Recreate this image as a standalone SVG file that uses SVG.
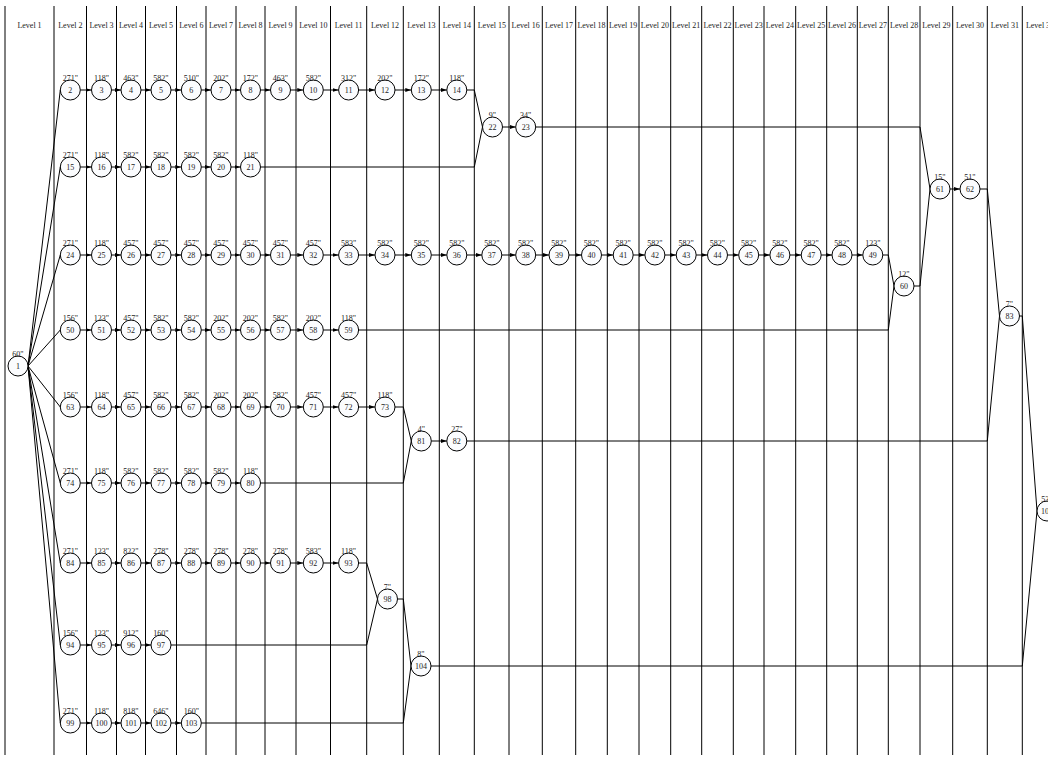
<svg xmlns="http://www.w3.org/2000/svg" width="1048" height="758" viewBox="0 0 1048 758">
<style>
.lv{font-family:"Liberation Serif",serif;font-size:8px;text-anchor:middle;fill:#222}
.grid line{stroke:#000;stroke-width:1}
.node circle{fill:#fbfcfe;stroke:#000;stroke-width:1}
.node text{font-family:"Liberation Serif",serif;font-size:8px;text-anchor:middle;fill:#222}
.conn line,.conn polyline{stroke:#000;stroke-width:1;fill:none}
.conn .a{marker-end:url(#ah)}
</style>
<defs>
<marker id="ah" viewBox="0 0 6 4" refX="6" refY="2" markerWidth="6" markerHeight="4" markerUnits="userSpaceOnUse" orient="auto"><path d="M0,0 L6,2 L0,4 z" fill="#000"/></marker>
</defs>
<rect width="1048" height="758" fill="#fff"/>
<g class="grid">
<line x1="5" y1="6" x2="5" y2="755"/><line x1="54" y1="6" x2="54" y2="755"/><line x1="86.5" y1="6" x2="86.5" y2="755"/><line x1="116.5" y1="6" x2="116.5" y2="755"/><line x1="145.5" y1="6" x2="145.5" y2="755"/><line x1="176.5" y1="6" x2="176.5" y2="755"/><line x1="206" y1="6" x2="206" y2="755"/><line x1="236" y1="6" x2="236" y2="755"/><line x1="265" y1="6" x2="265" y2="755"/><line x1="296" y1="6" x2="296" y2="755"/><line x1="330.5" y1="6" x2="330.5" y2="755"/><line x1="366.7" y1="6" x2="366.7" y2="755"/><line x1="403.3" y1="6" x2="403.3" y2="755"/><line x1="439.3" y1="6" x2="439.3" y2="755"/><line x1="474.3" y1="6" x2="474.3" y2="755"/><line x1="509" y1="6" x2="509" y2="755"/><line x1="542.3" y1="6" x2="542.3" y2="755"/><line x1="575.7" y1="6" x2="575.7" y2="755"/><line x1="607.3" y1="6" x2="607.3" y2="755"/><line x1="639" y1="6" x2="639" y2="755"/><line x1="670.7" y1="6" x2="670.7" y2="755"/><line x1="701.7" y1="6" x2="701.7" y2="755"/><line x1="733.3" y1="6" x2="733.3" y2="755"/><line x1="764" y1="6" x2="764" y2="755"/><line x1="795.7" y1="6" x2="795.7" y2="755"/><line x1="826.7" y1="6" x2="826.7" y2="755"/><line x1="857.3" y1="6" x2="857.3" y2="755"/><line x1="888.3" y1="6" x2="888.3" y2="755"/><line x1="920" y1="6" x2="920" y2="755"/><line x1="952.7" y1="6" x2="952.7" y2="755"/><line x1="987.3" y1="6" x2="987.3" y2="755"/><line x1="1022.3" y1="6" x2="1022.3" y2="755"/>
</g>
<g id="levels" opacity="0.99">
<text class="lv" x="29.5" y="28">Level 1</text><text class="lv" x="70.3" y="28">Level 2</text><text class="lv" x="101.5" y="28">Level 3</text><text class="lv" x="131" y="28">Level 4</text><text class="lv" x="161" y="28">Level 5</text><text class="lv" x="191.3" y="28">Level 6</text><text class="lv" x="221" y="28">Level 7</text><text class="lv" x="250.5" y="28">Level 8</text><text class="lv" x="280.5" y="28">Level 9</text><text class="lv" x="313.3" y="28">Level 10</text><text class="lv" x="348.6" y="28">Level 11</text><text class="lv" x="385" y="28">Level 12</text><text class="lv" x="421.3" y="28">Level 13</text><text class="lv" x="456.8" y="28">Level 14</text><text class="lv" x="491.8" y="28">Level 15</text><text class="lv" x="525.7" y="28">Level 16</text><text class="lv" x="559" y="28">Level 17</text><text class="lv" x="591.5" y="28">Level 18</text><text class="lv" x="623.2" y="28">Level 19</text><text class="lv" x="654.9" y="28">Level 20</text><text class="lv" x="686.2" y="28">Level 21</text><text class="lv" x="717.5" y="28">Level 22</text><text class="lv" x="748.7" y="28">Level 23</text><text class="lv" x="779.9" y="28">Level 24</text><text class="lv" x="811.2" y="28">Level 25</text><text class="lv" x="842" y="28">Level 26</text><text class="lv" x="872.8" y="28">Level 27</text><text class="lv" x="904.2" y="28">Level 28</text><text class="lv" x="936.4" y="28">Level 29</text><text class="lv" x="970" y="28">Level 30</text><text class="lv" x="1004.8" y="28">Level 31</text><text class="lv" x="1040" y="28">Level 32</text>
</g>
<g class="conn" id="connectors">
<line x1="28" y1="366" x2="60.3" y2="90"/><line x1="28" y1="366" x2="60.3" y2="167"/><line x1="28" y1="366" x2="60.3" y2="255"/><line x1="28" y1="366" x2="60.3" y2="330"/><line x1="28" y1="366" x2="60.3" y2="407"/><line x1="28" y1="366" x2="60.3" y2="483"/><line x1="28" y1="366" x2="60.3" y2="563"/><line x1="28" y1="366" x2="60.3" y2="645"/><line x1="28" y1="366" x2="60.3" y2="723"/>
<line class="a" x1="80.3" y1="90" x2="91.5" y2="90"/><line class="a" x1="111.5" y1="90" x2="121" y2="90"/><line class="a" x1="141" y1="90" x2="151" y2="90"/><line class="a" x1="171" y1="90" x2="181.3" y2="90"/><line class="a" x1="201.3" y1="90" x2="211" y2="90"/><line class="a" x1="231" y1="90" x2="240.5" y2="90"/><line class="a" x1="260.5" y1="90" x2="270.5" y2="90"/><line class="a" x1="290.5" y1="90" x2="303.3" y2="90"/><line class="a" x1="323.3" y1="90" x2="338.6" y2="90"/><line class="a" x1="358.6" y1="90" x2="375" y2="90"/><line class="a" x1="395" y1="90" x2="411.3" y2="90"/><line class="a" x1="431.3" y1="90" x2="446.8" y2="90"/>
<line class="a" x1="80.3" y1="167" x2="91.5" y2="167"/><line class="a" x1="111.5" y1="167" x2="121" y2="167"/><line class="a" x1="141" y1="167" x2="151" y2="167"/><line class="a" x1="171" y1="167" x2="181.3" y2="167"/><line class="a" x1="201.3" y1="167" x2="211" y2="167"/><line class="a" x1="231" y1="167" x2="240.5" y2="167"/>
<line class="a" x1="80.3" y1="255" x2="91.5" y2="255"/><line class="a" x1="111.5" y1="255" x2="121" y2="255"/><line class="a" x1="141" y1="255" x2="151" y2="255"/><line class="a" x1="171" y1="255" x2="181.3" y2="255"/><line class="a" x1="201.3" y1="255" x2="211" y2="255"/><line class="a" x1="231" y1="255" x2="240.5" y2="255"/><line class="a" x1="260.5" y1="255" x2="270.5" y2="255"/><line class="a" x1="290.5" y1="255" x2="303.3" y2="255"/><line class="a" x1="323.3" y1="255" x2="338.6" y2="255"/><line class="a" x1="358.6" y1="255" x2="375" y2="255"/><line class="a" x1="395" y1="255" x2="411.3" y2="255"/><line class="a" x1="431.3" y1="255" x2="446.8" y2="255"/><line class="a" x1="466.8" y1="255" x2="481.8" y2="255"/><line class="a" x1="501.8" y1="255" x2="515.7" y2="255"/><line class="a" x1="535.7" y1="255" x2="549" y2="255"/><line class="a" x1="569" y1="255" x2="581.5" y2="255"/><line class="a" x1="601.5" y1="255" x2="613.2" y2="255"/><line class="a" x1="633.2" y1="255" x2="644.9" y2="255"/><line class="a" x1="664.9" y1="255" x2="676.2" y2="255"/><line class="a" x1="696.2" y1="255" x2="707.5" y2="255"/><line class="a" x1="727.5" y1="255" x2="738.7" y2="255"/><line class="a" x1="758.7" y1="255" x2="769.9" y2="255"/><line class="a" x1="789.9" y1="255" x2="801.2" y2="255"/><line class="a" x1="821.2" y1="255" x2="832" y2="255"/><line class="a" x1="852" y1="255" x2="862.8" y2="255"/>
<line class="a" x1="80.3" y1="330" x2="91.5" y2="330"/><line class="a" x1="111.5" y1="330" x2="121" y2="330"/><line class="a" x1="141" y1="330" x2="151" y2="330"/><line class="a" x1="171" y1="330" x2="181.3" y2="330"/><line class="a" x1="201.3" y1="330" x2="211" y2="330"/><line class="a" x1="231" y1="330" x2="240.5" y2="330"/><line class="a" x1="260.5" y1="330" x2="270.5" y2="330"/><line class="a" x1="290.5" y1="330" x2="303.3" y2="330"/><line class="a" x1="323.3" y1="330" x2="338.6" y2="330"/>
<line class="a" x1="80.3" y1="407" x2="91.5" y2="407"/><line class="a" x1="111.5" y1="407" x2="121" y2="407"/><line class="a" x1="141" y1="407" x2="151" y2="407"/><line class="a" x1="171" y1="407" x2="181.3" y2="407"/><line class="a" x1="201.3" y1="407" x2="211" y2="407"/><line class="a" x1="231" y1="407" x2="240.5" y2="407"/><line class="a" x1="260.5" y1="407" x2="270.5" y2="407"/><line class="a" x1="290.5" y1="407" x2="303.3" y2="407"/><line class="a" x1="323.3" y1="407" x2="338.6" y2="407"/><line class="a" x1="358.6" y1="407" x2="375" y2="407"/>
<line class="a" x1="80.3" y1="483" x2="91.5" y2="483"/><line class="a" x1="111.5" y1="483" x2="121" y2="483"/><line class="a" x1="141" y1="483" x2="151" y2="483"/><line class="a" x1="171" y1="483" x2="181.3" y2="483"/><line class="a" x1="201.3" y1="483" x2="211" y2="483"/><line class="a" x1="231" y1="483" x2="240.5" y2="483"/>
<line class="a" x1="80.3" y1="563" x2="91.5" y2="563"/><line class="a" x1="111.5" y1="563" x2="121" y2="563"/><line class="a" x1="141" y1="563" x2="151" y2="563"/><line class="a" x1="171" y1="563" x2="181.3" y2="563"/><line class="a" x1="201.3" y1="563" x2="211" y2="563"/><line class="a" x1="231" y1="563" x2="240.5" y2="563"/><line class="a" x1="260.5" y1="563" x2="270.5" y2="563"/><line class="a" x1="290.5" y1="563" x2="303.3" y2="563"/><line class="a" x1="323.3" y1="563" x2="338.6" y2="563"/>
<line class="a" x1="80.3" y1="645" x2="91.5" y2="645"/><line class="a" x1="111.5" y1="645" x2="121" y2="645"/><line class="a" x1="141" y1="645" x2="151" y2="645"/>
<line class="a" x1="80.3" y1="723" x2="91.5" y2="723"/><line class="a" x1="111.5" y1="723" x2="121" y2="723"/><line class="a" x1="141" y1="723" x2="151" y2="723"/><line class="a" x1="171" y1="723" x2="181.3" y2="723"/>
<line class="a" x1="502.5" y1="127" x2="515.7" y2="127"/><line class="a" x1="950" y1="189" x2="960" y2="189"/><line class="a" x1="431.3" y1="441" x2="446.8" y2="441"/>
<polyline points="466.8,90 474.3,90 482.5,127"/><polyline points="260.5,167 474.3,167 482.5,127"/>
<polyline points="535.7,127 920,127 930,189"/><polyline points="914,286 920,286 930,189"/>
<polyline points="882.8,255 888.3,255 894,286"/><polyline points="358.6,330 888.3,330 894,286"/>
<polyline points="980,189 987.3,189 999.5,316"/><polyline points="466.8,441 987.3,441 999.5,316"/>
<polyline points="1019.5,316 1022.3,316 1037,511"/><polyline points="431,666 1022.3,666 1037,511"/>
<polyline points="395,407 403.3,407 411.3,441"/><polyline points="260.5,483 403.3,483 411.3,441"/>
<polyline points="358.6,563 366.7,563 377.5,599"/><polyline points="171,645 366.7,645 377.5,599"/>
<polyline points="397.5,599 403.3,599 411,666"/><polyline points="201.3,723 403.3,723 411,666"/>
</g>
<g id="nodes" opacity="0.99">
<g id="n1" class="node"><circle cx="18" cy="366" r="10"/><text x="18" y="369">1</text><text x="18" y="356.5">60"</text></g>
<g id="n2" class="node"><circle cx="70.3" cy="90" r="10"/><text x="70.3" y="93">2</text><text x="70.3" y="80.5">271"</text></g>
<g id="n3" class="node"><circle cx="101.5" cy="90" r="10"/><text x="101.5" y="93">3</text><text x="101.5" y="80.5">118"</text></g>
<g id="n4" class="node"><circle cx="131" cy="90" r="10"/><text x="131" y="93">4</text><text x="131" y="80.5">463"</text></g>
<g id="n5" class="node"><circle cx="161" cy="90" r="10"/><text x="161" y="93">5</text><text x="161" y="80.5">582"</text></g>
<g id="n6" class="node"><circle cx="191.3" cy="90" r="10"/><text x="191.3" y="93">6</text><text x="191.3" y="80.5">510"</text></g>
<g id="n7" class="node"><circle cx="221" cy="90" r="10"/><text x="221" y="93">7</text><text x="221" y="80.5">202"</text></g>
<g id="n8" class="node"><circle cx="250.5" cy="90" r="10"/><text x="250.5" y="93">8</text><text x="250.5" y="80.5">172"</text></g>
<g id="n9" class="node"><circle cx="280.5" cy="90" r="10"/><text x="280.5" y="93">9</text><text x="280.5" y="80.5">463"</text></g>
<g id="n10" class="node"><circle cx="313.3" cy="90" r="10"/><text x="313.3" y="93">10</text><text x="313.3" y="80.5">582"</text></g>
<g id="n11" class="node"><circle cx="348.6" cy="90" r="10"/><text x="348.6" y="93">11</text><text x="348.6" y="80.5">312"</text></g>
<g id="n12" class="node"><circle cx="385" cy="90" r="10"/><text x="385" y="93">12</text><text x="385" y="80.5">202"</text></g>
<g id="n13" class="node"><circle cx="421.3" cy="90" r="10"/><text x="421.3" y="93">13</text><text x="421.3" y="80.5">172"</text></g>
<g id="n14" class="node"><circle cx="456.8" cy="90" r="10"/><text x="456.8" y="93">14</text><text x="456.8" y="80.5">118"</text></g>
<g id="n22" class="node"><circle cx="492.5" cy="127" r="10"/><text x="492.5" y="130">22</text><text x="492.5" y="117.5">9"</text></g>
<g id="n23" class="node"><circle cx="525.7" cy="127" r="10"/><text x="525.7" y="130">23</text><text x="525.7" y="117.5">34"</text></g>
<g id="n15" class="node"><circle cx="70.3" cy="167" r="10"/><text x="70.3" y="170">15</text><text x="70.3" y="157.5">271"</text></g>
<g id="n16" class="node"><circle cx="101.5" cy="167" r="10"/><text x="101.5" y="170">16</text><text x="101.5" y="157.5">118"</text></g>
<g id="n17" class="node"><circle cx="131" cy="167" r="10"/><text x="131" y="170">17</text><text x="131" y="157.5">582"</text></g>
<g id="n18" class="node"><circle cx="161" cy="167" r="10"/><text x="161" y="170">18</text><text x="161" y="157.5">582"</text></g>
<g id="n19" class="node"><circle cx="191.3" cy="167" r="10"/><text x="191.3" y="170">19</text><text x="191.3" y="157.5">582"</text></g>
<g id="n20" class="node"><circle cx="221" cy="167" r="10"/><text x="221" y="170">20</text><text x="221" y="157.5">582"</text></g>
<g id="n21" class="node"><circle cx="250.5" cy="167" r="10"/><text x="250.5" y="170">21</text><text x="250.5" y="157.5">118"</text></g>
<g id="n24" class="node"><circle cx="70.3" cy="255" r="10"/><text x="70.3" y="258">24</text><text x="70.3" y="245.5">271"</text></g>
<g id="n25" class="node"><circle cx="101.5" cy="255" r="10"/><text x="101.5" y="258">25</text><text x="101.5" y="245.5">118"</text></g>
<g id="n26" class="node"><circle cx="131" cy="255" r="10"/><text x="131" y="258">26</text><text x="131" y="245.5">457"</text></g>
<g id="n27" class="node"><circle cx="161" cy="255" r="10"/><text x="161" y="258">27</text><text x="161" y="245.5">457"</text></g>
<g id="n28" class="node"><circle cx="191.3" cy="255" r="10"/><text x="191.3" y="258">28</text><text x="191.3" y="245.5">457"</text></g>
<g id="n29" class="node"><circle cx="221" cy="255" r="10"/><text x="221" y="258">29</text><text x="221" y="245.5">457"</text></g>
<g id="n30" class="node"><circle cx="250.5" cy="255" r="10"/><text x="250.5" y="258">30</text><text x="250.5" y="245.5">457"</text></g>
<g id="n31" class="node"><circle cx="280.5" cy="255" r="10"/><text x="280.5" y="258">31</text><text x="280.5" y="245.5">457"</text></g>
<g id="n32" class="node"><circle cx="313.3" cy="255" r="10"/><text x="313.3" y="258">32</text><text x="313.3" y="245.5">457"</text></g>
<g id="n33" class="node"><circle cx="348.6" cy="255" r="10"/><text x="348.6" y="258">33</text><text x="348.6" y="245.5">583"</text></g>
<g id="n34" class="node"><circle cx="385" cy="255" r="10"/><text x="385" y="258">34</text><text x="385" y="245.5">582"</text></g>
<g id="n35" class="node"><circle cx="421.3" cy="255" r="10"/><text x="421.3" y="258">35</text><text x="421.3" y="245.5">582"</text></g>
<g id="n36" class="node"><circle cx="456.8" cy="255" r="10"/><text x="456.8" y="258">36</text><text x="456.8" y="245.5">582"</text></g>
<g id="n37" class="node"><circle cx="491.8" cy="255" r="10"/><text x="491.8" y="258">37</text><text x="491.8" y="245.5">582"</text></g>
<g id="n38" class="node"><circle cx="525.7" cy="255" r="10"/><text x="525.7" y="258">38</text><text x="525.7" y="245.5">582"</text></g>
<g id="n39" class="node"><circle cx="559" cy="255" r="10"/><text x="559" y="258">39</text><text x="559" y="245.5">582"</text></g>
<g id="n40" class="node"><circle cx="591.5" cy="255" r="10"/><text x="591.5" y="258">40</text><text x="591.5" y="245.5">582"</text></g>
<g id="n41" class="node"><circle cx="623.2" cy="255" r="10"/><text x="623.2" y="258">41</text><text x="623.2" y="245.5">582"</text></g>
<g id="n42" class="node"><circle cx="654.9" cy="255" r="10"/><text x="654.9" y="258">42</text><text x="654.9" y="245.5">582"</text></g>
<g id="n43" class="node"><circle cx="686.2" cy="255" r="10"/><text x="686.2" y="258">43</text><text x="686.2" y="245.5">582"</text></g>
<g id="n44" class="node"><circle cx="717.5" cy="255" r="10"/><text x="717.5" y="258">44</text><text x="717.5" y="245.5">582"</text></g>
<g id="n45" class="node"><circle cx="748.7" cy="255" r="10"/><text x="748.7" y="258">45</text><text x="748.7" y="245.5">582"</text></g>
<g id="n46" class="node"><circle cx="779.9" cy="255" r="10"/><text x="779.9" y="258">46</text><text x="779.9" y="245.5">582"</text></g>
<g id="n47" class="node"><circle cx="811.2" cy="255" r="10"/><text x="811.2" y="258">47</text><text x="811.2" y="245.5">582"</text></g>
<g id="n48" class="node"><circle cx="842" cy="255" r="10"/><text x="842" y="258">48</text><text x="842" y="245.5">582"</text></g>
<g id="n49" class="node"><circle cx="872.8" cy="255" r="10"/><text x="872.8" y="258">49</text><text x="872.8" y="245.5">123"</text></g>
<g id="n60" class="node"><circle cx="904" cy="286" r="10"/><text x="904" y="289">60</text><text x="904" y="276.5">12"</text></g>
<g id="n61" class="node"><circle cx="940" cy="189" r="10"/><text x="940" y="192">61</text><text x="940" y="179.5">15"</text></g>
<g id="n62" class="node"><circle cx="970" cy="189" r="10"/><text x="970" y="192">62</text><text x="970" y="179.5">51"</text></g>
<g id="n83" class="node"><circle cx="1009.5" cy="316" r="10"/><text x="1009.5" y="319">83</text><text x="1009.5" y="306.5">7"</text></g>
<g id="n50" class="node"><circle cx="70.3" cy="330" r="10"/><text x="70.3" y="333">50</text><text x="70.3" y="320.5">156"</text></g>
<g id="n51" class="node"><circle cx="101.5" cy="330" r="10"/><text x="101.5" y="333">51</text><text x="101.5" y="320.5">123"</text></g>
<g id="n52" class="node"><circle cx="131" cy="330" r="10"/><text x="131" y="333">52</text><text x="131" y="320.5">457"</text></g>
<g id="n53" class="node"><circle cx="161" cy="330" r="10"/><text x="161" y="333">53</text><text x="161" y="320.5">582"</text></g>
<g id="n54" class="node"><circle cx="191.3" cy="330" r="10"/><text x="191.3" y="333">54</text><text x="191.3" y="320.5">582"</text></g>
<g id="n55" class="node"><circle cx="221" cy="330" r="10"/><text x="221" y="333">55</text><text x="221" y="320.5">202"</text></g>
<g id="n56" class="node"><circle cx="250.5" cy="330" r="10"/><text x="250.5" y="333">56</text><text x="250.5" y="320.5">202"</text></g>
<g id="n57" class="node"><circle cx="280.5" cy="330" r="10"/><text x="280.5" y="333">57</text><text x="280.5" y="320.5">582"</text></g>
<g id="n58" class="node"><circle cx="313.3" cy="330" r="10"/><text x="313.3" y="333">58</text><text x="313.3" y="320.5">202"</text></g>
<g id="n59" class="node"><circle cx="348.6" cy="330" r="10"/><text x="348.6" y="333">59</text><text x="348.6" y="320.5">118"</text></g>
<g id="n63" class="node"><circle cx="70.3" cy="407" r="10"/><text x="70.3" y="410">63</text><text x="70.3" y="397.5">156"</text></g>
<g id="n64" class="node"><circle cx="101.5" cy="407" r="10"/><text x="101.5" y="410">64</text><text x="101.5" y="397.5">118"</text></g>
<g id="n65" class="node"><circle cx="131" cy="407" r="10"/><text x="131" y="410">65</text><text x="131" y="397.5">457"</text></g>
<g id="n66" class="node"><circle cx="161" cy="407" r="10"/><text x="161" y="410">66</text><text x="161" y="397.5">582"</text></g>
<g id="n67" class="node"><circle cx="191.3" cy="407" r="10"/><text x="191.3" y="410">67</text><text x="191.3" y="397.5">582"</text></g>
<g id="n68" class="node"><circle cx="221" cy="407" r="10"/><text x="221" y="410">68</text><text x="221" y="397.5">202"</text></g>
<g id="n69" class="node"><circle cx="250.5" cy="407" r="10"/><text x="250.5" y="410">69</text><text x="250.5" y="397.5">202"</text></g>
<g id="n70" class="node"><circle cx="280.5" cy="407" r="10"/><text x="280.5" y="410">70</text><text x="280.5" y="397.5">582"</text></g>
<g id="n71" class="node"><circle cx="313.3" cy="407" r="10"/><text x="313.3" y="410">71</text><text x="313.3" y="397.5">457"</text></g>
<g id="n72" class="node"><circle cx="348.6" cy="407" r="10"/><text x="348.6" y="410">72</text><text x="348.6" y="397.5">457"</text></g>
<g id="n73" class="node"><circle cx="385" cy="407" r="10"/><text x="385" y="410">73</text><text x="385" y="397.5">118"</text></g>
<g id="n81" class="node"><circle cx="421.3" cy="441" r="10"/><text x="421.3" y="444">81</text><text x="421.3" y="431.5">4"</text></g>
<g id="n82" class="node"><circle cx="456.8" cy="441" r="10"/><text x="456.8" y="444">82</text><text x="456.8" y="431.5">27"</text></g>
<g id="n74" class="node"><circle cx="70.3" cy="483" r="10"/><text x="70.3" y="486">74</text><text x="70.3" y="473.5">271"</text></g>
<g id="n75" class="node"><circle cx="101.5" cy="483" r="10"/><text x="101.5" y="486">75</text><text x="101.5" y="473.5">118"</text></g>
<g id="n76" class="node"><circle cx="131" cy="483" r="10"/><text x="131" y="486">76</text><text x="131" y="473.5">582"</text></g>
<g id="n77" class="node"><circle cx="161" cy="483" r="10"/><text x="161" y="486">77</text><text x="161" y="473.5">582"</text></g>
<g id="n78" class="node"><circle cx="191.3" cy="483" r="10"/><text x="191.3" y="486">78</text><text x="191.3" y="473.5">582"</text></g>
<g id="n79" class="node"><circle cx="221" cy="483" r="10"/><text x="221" y="486">79</text><text x="221" y="473.5">582"</text></g>
<g id="n80" class="node"><circle cx="250.5" cy="483" r="10"/><text x="250.5" y="486">80</text><text x="250.5" y="473.5">118"</text></g>
<g id="n105" class="node"><circle cx="1047" cy="511" r="10"/><text x="1047" y="514">105</text><text x="1047" y="501.5">53"</text></g>
<g id="n84" class="node"><circle cx="70.3" cy="563" r="10"/><text x="70.3" y="566">84</text><text x="70.3" y="553.5">271"</text></g>
<g id="n85" class="node"><circle cx="101.5" cy="563" r="10"/><text x="101.5" y="566">85</text><text x="101.5" y="553.5">123"</text></g>
<g id="n86" class="node"><circle cx="131" cy="563" r="10"/><text x="131" y="566">86</text><text x="131" y="553.5">822"</text></g>
<g id="n87" class="node"><circle cx="161" cy="563" r="10"/><text x="161" y="566">87</text><text x="161" y="553.5">278"</text></g>
<g id="n88" class="node"><circle cx="191.3" cy="563" r="10"/><text x="191.3" y="566">88</text><text x="191.3" y="553.5">278"</text></g>
<g id="n89" class="node"><circle cx="221" cy="563" r="10"/><text x="221" y="566">89</text><text x="221" y="553.5">278"</text></g>
<g id="n90" class="node"><circle cx="250.5" cy="563" r="10"/><text x="250.5" y="566">90</text><text x="250.5" y="553.5">278"</text></g>
<g id="n91" class="node"><circle cx="280.5" cy="563" r="10"/><text x="280.5" y="566">91</text><text x="280.5" y="553.5">278"</text></g>
<g id="n92" class="node"><circle cx="313.3" cy="563" r="10"/><text x="313.3" y="566">92</text><text x="313.3" y="553.5">583"</text></g>
<g id="n93" class="node"><circle cx="348.6" cy="563" r="10"/><text x="348.6" y="566">93</text><text x="348.6" y="553.5">118"</text></g>
<g id="n98" class="node"><circle cx="387.5" cy="599" r="10"/><text x="387.5" y="602">98</text><text x="387.5" y="589.5">7"</text></g>
<g id="n94" class="node"><circle cx="70.3" cy="645" r="10"/><text x="70.3" y="648">94</text><text x="70.3" y="635.5">156"</text></g>
<g id="n95" class="node"><circle cx="101.5" cy="645" r="10"/><text x="101.5" y="648">95</text><text x="101.5" y="635.5">123"</text></g>
<g id="n96" class="node"><circle cx="131" cy="645" r="10"/><text x="131" y="648">96</text><text x="131" y="635.5">912"</text></g>
<g id="n97" class="node"><circle cx="161" cy="645" r="10"/><text x="161" y="648">97</text><text x="161" y="635.5">160"</text></g>
<g id="n104" class="node"><circle cx="421" cy="666" r="10"/><text x="421" y="669">104</text><text x="421" y="656.5">8"</text></g>
<g id="n99" class="node"><circle cx="70.3" cy="723" r="10"/><text x="70.3" y="726">99</text><text x="70.3" y="713.5">271"</text></g>
<g id="n100" class="node"><circle cx="101.5" cy="723" r="10"/><text x="101.5" y="726">100</text><text x="101.5" y="713.5">118"</text></g>
<g id="n101" class="node"><circle cx="131" cy="723" r="10"/><text x="131" y="726">101</text><text x="131" y="713.5">818"</text></g>
<g id="n102" class="node"><circle cx="161" cy="723" r="10"/><text x="161" y="726">102</text><text x="161" y="713.5">646"</text></g>
<g id="n103" class="node"><circle cx="191.3" cy="723" r="10"/><text x="191.3" y="726">103</text><text x="191.3" y="713.5">160"</text></g>
</g>
</svg>
